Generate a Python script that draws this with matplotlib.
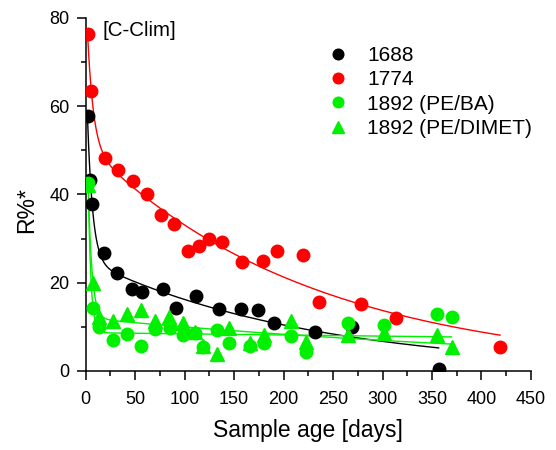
import matplotlib
matplotlib.use('Agg')
import matplotlib.pyplot as plt
import numpy as np
from matplotlib.ticker import MultipleLocator

# Sample age [days] and R%* values
x_1688 = [2, 4.3, 6.7, 18.8, 31.9, 46.5, 56.6, 77.8, 91.6, 111.5, 134.4, 156.9,
          174.1, 190, 231.5, 268.8, 356.7]
y_1688 = [57.9, 43.3, 37.8, 26.7, 22.1, 18.6, 18.0, 18.6, 14.3, 17.1, 14.0, 14.0,
          13.8, 10.9, 8.9, 10.0, 0.5]

x_1774 = [2, 5.7, 19.8, 33, 47.8, 61.9, 76.1, 89.3, 103.4, 114.5, 124.7, 137.8,
          157.9, 179.1, 193.3, 219.6, 235.8, 278.2, 313.6, 418.7]
y_1774 = [76.3, 63.5, 48.2, 45.6, 43.1, 40.1, 35.4, 33.3, 27.2, 28.3, 29.9, 29.2,
          24.7, 24.9, 27.2, 26.3, 15.6, 15.1, 11.9, 5.4]

x_ba = [2.6, 7.4, 13.7, 27.9, 41.7, 55.6, 70, 85.2, 98.3, 110.1, 118.8, 133,
        145.1, 166, 180.2, 207.2, 222.6, 265, 301.1, 354.9, 369.8]
y_ba = [42.5, 14.2, 10.0, 7.0, 8.4, 5.7, 9.5, 9.7, 8.2, 8.7, 5.4, 9.3,
        6.4, 5.7, 6.3, 7.9, 4.4, 10.8, 10.4, 12.9, 12.2]

x_dimet = [2.6, 7.7, 13.7, 27.9, 41.7, 55.6, 70, 84.2, 98, 110.4, 118.8, 133,
           145.1, 166, 180.2, 207.2, 222.6, 265, 301.1, 354.9, 369.8]
y_dimet = [42.2, 19.9, 12.3, 11.4, 12.9, 13.8, 11.4, 12.3, 10.9, 8.9, 5.6, 3.8,
           9.8, 6.3, 8.2, 11.4, 6.6, 8.2, 8.5, 8.2, 5.5]


def expdec2(x, y):
    # y = A1*exp(-x/t1) + A2*exp(-x/t2), grid search on t1, t2
    x = np.asarray(x, float)
    y = np.asarray(y, float)
    best = None
    for t1 in np.logspace(-0.5, 1.8, 50):
        for t2 in np.logspace(1.0, 3.5, 60):
            if t2 <= t1 * 1.5:
                continue
            A = np.column_stack([np.exp(-x / t1), np.exp(-x / t2)])
            coef = np.linalg.lstsq(A, y, rcond=None)[0]
            err = np.sum((A @ coef - y) ** 2)
            if best is None or err < best[0]:
                best = (err, t1, t2, coef)
    _, t1, t2, c = best
    xx = np.linspace(x.min(), x.max(), 400)
    return xx, c[0] * np.exp(-xx / t1) + c[1] * np.exp(-xx / t2)


plt.rcParams['font.family'] = ['Liberation Sans', 'DejaVu Sans']
plt.rcParams['xtick.direction'] = 'out'
plt.rcParams['ytick.direction'] = 'out'

fig = plt.figure(figsize=(5.56, 4.5), dpi=100)
ax = fig.add_axes([0.154, 0.1756, 0.801, 0.7844])

series = [
    (x_1688, y_1688, 'black', 'o', '1688'),
    (x_1774, y_1774, '#ff0000', 'o', '1774'),
    (x_ba, y_ba, '#00f000', 'o', '1892 (PE/BA)'),
    (x_dimet, y_dimet, '#00f000', '^', '1892 (PE/DIMET)'),
]
for xs, ys, c, m, lab in series:
    fx, fy = expdec2(xs, ys)
    ax.plot(fx, fy, color=c, linewidth=1.0, zorder=2)
for xs, ys, c, m, lab in series:
    ax.plot(xs, ys, linestyle='none', marker=m, color=c,
            markersize=9 if m == 'o' else 10, label=lab, zorder=3)

ax.set_xlim(0, 450)
ax.set_ylim(0, 80)
ax.xaxis.set_major_locator(MultipleLocator(50))
ax.xaxis.set_minor_locator(MultipleLocator(25))
ax.yaxis.set_major_locator(MultipleLocator(20))
ax.yaxis.set_minor_locator(MultipleLocator(10))
ax.tick_params(which='major', length=6.5, width=1.1, labelsize=13)
ax.tick_params(which='minor', length=3.5, width=1.1)
ax.tick_params(axis='x', which='major', pad=8)
ax.tick_params(axis='y', which='major', pad=5)
ax.spines['top'].set_visible(False)
ax.spines['right'].set_visible(False)
ax.spines['left'].set_linewidth(1.1)
ax.spines['bottom'].set_linewidth(1.1)

ax.set_xlabel('Sample age [days]', fontsize=16.5, labelpad=8)
ax.set_ylabel('R%*', fontsize=16.5)
ax.yaxis.set_label_coords(-0.106, 0.456)

ax.text(0.039, 0.966, '[C-Clim]', transform=ax.transAxes, fontsize=14.8,
        ha='left', va='center')

ax.legend(loc='upper left', bbox_to_anchor=(0.543, 0.92), frameon=False,
          fontsize=15, borderpad=0, borderaxespad=0, handlelength=1.0,
          handletextpad=0.9, labelspacing=0.25, markerscale=0.85)

fig.savefig('out.png', dpi=100)
